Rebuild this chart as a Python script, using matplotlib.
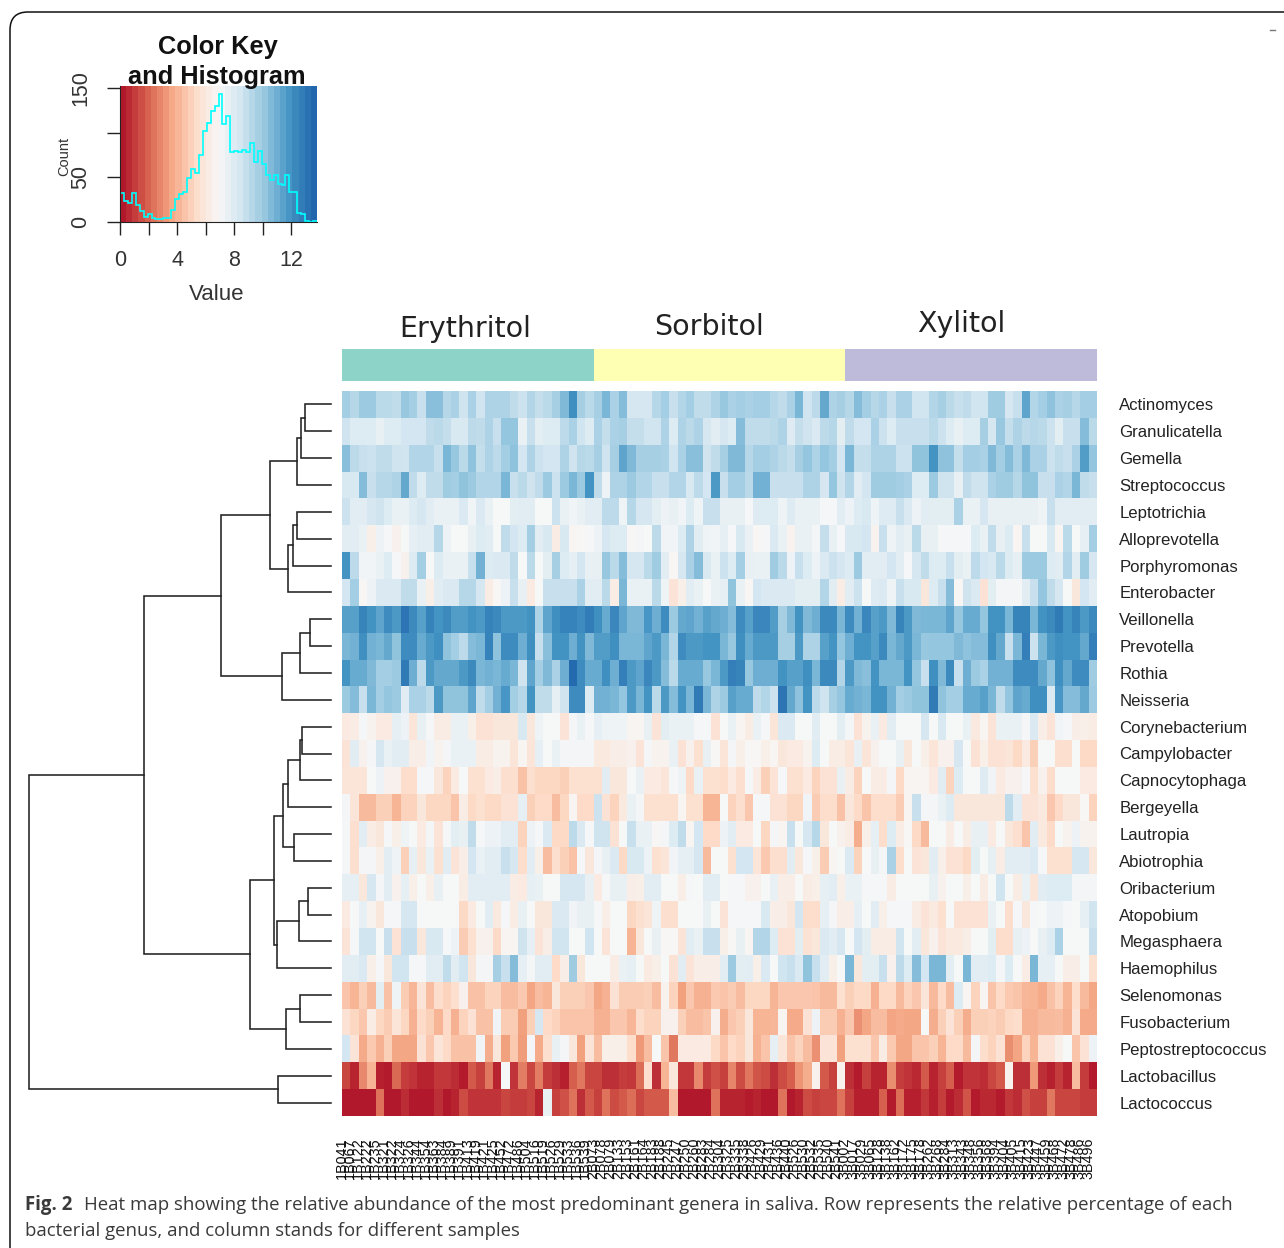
import matplotlib
matplotlib.use("Agg")
import matplotlib.pyplot as plt
import numpy as np
from matplotlib.colors import LinearSegmentedColormap
from matplotlib.path import Path
from matplotlib.patches import PathPatch

W, H = 1284, 1248

genera = ["Actinomyces","Granulicatella","Gemella","Streptococcus","Leptotrichia","Alloprevotella",
          "Porphyromonas","Enterobacter","Veillonella","Prevotella","Rothia","Neisseria",
          "Corynebacterium","Campylobacter","Capnocytophaga","Bergeyella","Lautropia","Abiotrophia",
          "Oribacterium","Atopobium","Megasphaera","Haemophilus","Selenomonas","Fusobacterium",
          "Peptostreptococcus","Lactobacillus","Lactococcus"]

Actinomyces = [10,9.5,10.2,10.2,9.4,9.4,9.2,10.3,10,9,10.7,10.7,9.5,9.8,8.8,
 9.8,8.7,9.7,9.7,9.7,9.2,8.9,9.6,9.1,9.4,9.9,10.9,12.4,9.9,9.4,
 9.9,11,9.8,10.8,8.5,8.5,8.5,9.5,10,9,9.6,10,9.2,9.2,9.7,
 10.3,9.8,10,9.8,10,10,9.5,9.2,9.8,11,8.7,9.3,11.5,9.7,9.9,
 9.5,10.8,10,9.5,9.8,9,9.8,9.8,8.7,8.7,9.6,9.9,9.4,9,9.2,
 8.7,8.7,10.1,10.1,8.5,9,11.6,9.6,10,10.6,9.8,9.9,9.5,10,10]
Granulicatella = [8.8,8.2,8.2,8.2,7.7,8.2,8.2,8.6,8.6,8.6,9.2,9.4,9.1,8.4,8.4,
 9.3,9.2,9.7,9,10.4,10.4,7.6,9,7.9,8.2,8.2,9.3,9.8,8.7,8.2,
 9.8,9.1,9.8,9.9,9.1,9.1,8.7,8.7,9.7,8.2,9.7,9.4,9.7,8.5,8,
 8.5,8.2,10.8,9.2,9.2,9.2,9.4,9.7,8.1,9.1,8.8,8.3,9.3,9.5,7.9,
 9.2,8.6,8.6,9.8,8.9,8.2,9,9,9,9,9.4,8.9,8.2,7.7,8.2,
 8.2,9.9,8.5,10.3,9.1,9.7,9.3,9.5,9.4,8.9,7.9,9,9,10.8,9.4]
Gemella = [10.7,9.3,9,8.9,9.2,9.2,8.8,8.7,9.6,9.6,9.6,9,11,10.3,9.4,
 10.6,9.1,9.7,9.3,10,10.6,8.6,9.7,8.9,8.6,8.6,9.7,8.8,9.5,9.4,
 9.9,8.8,9.9,11.6,10.9,9.9,9.9,9.9,9.8,8.7,9.8,10.7,10.7,8.8,9.2,
 9.9,10.9,10.9,9.5,10,10,9.7,9.4,9.1,9.9,10.4,9.7,10.4,10,8.6,
 11,9.1,9.1,9.7,9.7,9.7,8.9,8.9,10.5,10.5,12.2,10.6,10.6,9.1,10,
 10,9.8,10.9,10,10.8,9.8,10.9,9.8,9.8,8.9,9.2,9,9.8,11.9,10.4]
Streptococcus = [8.4,8.4,10.8,9,9.5,9.5,9.7,11.5,9.2,8.2,9.2,9.2,10.1,10,10.5,
 10.2,9.6,9.6,9.6,11,9,9.4,8.8,9.2,10.2,8.9,10.2,11,10.2,12.2,
 9.2,7.5,9.7,9.7,10.2,9.6,9.6,9,9,9.6,9.6,8.4,9.3,8.6,12,
 9,10,10,9.4,11.2,11.2,9,9,9,9,9.7,9.7,8.5,10.4,8.8,
 9.6,8,8.6,10.1,10.1,10.1,10,9.8,8.2,8.2,10.2,8.8,8.8,7.7,9.2,
 8.8,8.8,9.8,10.1,10.1,9.5,10.5,10.5,9,9,9.8,9.6,11,9.2,9]
Leptotrichia = [8.9,8,8,8.5,8.8,8.2,7.6,7.6,8.2,8.5,8,7.6,7.6,7.6,8.3,
 7.3,8.3,7.6,7,7,7.9,8,8,7,7,8.9,7.6,7.3,7.6,8,
 8,9.3,9.3,7.4,9.5,8.5,8.5,7.9,7.5,7.7,7.3,8.2,7.4,9,9,
 7.7,7.7,7.7,7.1,8.1,8.2,8.2,7.4,8.1,7.6,7.6,7.6,7.1,7.1,8,
 7.5,8.2,8.4,7.4,8.1,8.1,9,8.3,7.5,8,7.9,7.9,7.9,9.8,7.6,
 7.6,8.5,7.7,7.7,7.7,7.7,7.7,7.7,7.4,9,8,8,8,8,8]
Alloprevotella = [8,8,7.6,6.5,7.5,7.1,6.6,7,7.8,8,8,9.5,7.5,7,7,
 7.7,8.2,8,7,9.2,8.6,8.2,10,8,8.4,6.3,8.4,6.8,6.9,7.1,
 7.5,8.5,8.2,8.2,6.9,7.2,7,9.3,7.3,7.3,8.2,9.7,8,7.4,7.3,
 7.8,7.1,8.4,7.6,6.9,7.1,8.3,7.6,6.7,7.6,7.6,7.2,9.1,7.7,7.1,
 8.4,8.4,8.6,6.7,9,7.4,8,7.7,9.4,7.7,7.7,7.1,7.1,7.1,7.1,
 8.2,7.6,9.2,7.7,8.2,6.8,9,7,7,8.4,6.8,9.4,7,7.8,10]
Porphyromonas = [12.2,9.3,7.3,7.3,7.6,8.2,7.1,6.6,8.2,10,7,8.2,7.6,7.6,7.6,
 9,11.2,8.2,8.3,8.3,9.2,7,9.4,7,7.9,9.9,8.2,7.8,8.6,7.7,
 7.7,10.3,9.4,10.8,8.5,8.5,9.4,10.1,8,6.9,8.5,9.8,10.8,8.4,7.6,
 8.9,8.2,10,7.7,7.6,7.6,10.1,9.4,7.5,9,8.2,7.5,8.3,8.9,8.5,
 8.2,10.2,8,8,8,8.6,8,7.1,8.5,9.2,8.2,8.2,9,7.9,7.6,
 9.3,8.6,8.4,9.4,8.2,7.8,10.2,10.2,10.2,8.2,8,9.6,8,10.1,8.5]
Enterobacter = [8.6,10,6.9,7.5,8.3,8.3,8.3,9.2,9.2,7.6,6.5,8,8.3,8.3,9.5,
 9.5,8.5,6.3,6.9,7.5,9,7.7,6.2,7,9,9,9,9,9.8,8,
 8,9.4,6.3,11,7.6,7.6,7.6,9.4,7.4,5.8,6.5,8,7.6,7,7.6,
 7.8,10.5,7.6,6.9,8.6,8.3,8.3,8.3,8.3,7.9,7.9,7.9,9.6,8,6.3,
 8,8.9,7,8.1,8.3,7.4,9,8.4,8.4,6,8.2,9,10.8,6.9,8.8,
 8.3,5.7,7.9,7.2,7.2,7.2,8,9,10.4,9.2,8.5,7,6,8.6,8]
Veillonella = [11.8,11.8,12.8,12.3,11.6,12.5,12,13.4,12.6,11.8,12.9,12.2,12.6,11.9,11.9,
 12.3,12,12.9,12.6,12,12,12,12.3,9.7,11.6,12.4,12.9,12.9,12.5,13.1,
 12.4,11.4,12.7,11.6,10.9,10.9,12.1,11.3,12.5,10.2,11.5,11.6,11.2,11.8,11.5,
 11.3,10.8,12.5,11.8,12.7,12.7,11.9,9.9,10.9,12.3,10.9,11.3,12.6,12.6,11,
 12.5,11.2,12.7,11.8,12,10.9,12.8,12,10.9,11,11,11,11.6,10.3,11.4,
 11.4,10.4,12.3,12.3,11,12.8,12.8,11,12.3,12.6,13.2,12.2,12.8,12,12.6]
Prevotella = [11,11.2,12.4,11.2,11,11.5,10.5,12.5,12.5,11.4,12,12.4,10.5,10,9.3,
 10.8,11,12.9,10.6,12.5,12.5,11.3,12.4,9,10.7,12.3,12.3,11.3,12.3,10.9,
 11.9,11.9,12.4,11,11,11,11.6,12,11,9.6,12.5,12,12,12.2,12.2,
 11,10.3,12.4,11.4,12,12,12,9.9,9.9,12,9.7,9.7,11.8,12.2,10.4,
 11.3,12.2,12.2,11.8,12.6,11,11.5,12,11,10.3,10.4,10.4,10.4,10.9,10.6,
 10.8,10.8,12.4,11.5,9,11,13,8.9,11,12,12.4,12.2,12.2,11.5,13]
Rothia = [12.2,11.4,11.4,10.9,10,10,10.2,13.2,11.3,9.3,12,11.5,11.5,11.5,12,
 12.6,11,11.2,11,11.4,11,8.8,11.6,10,10.9,9.8,11.3,13.8,12.5,11.4,
 11.4,12.4,11.3,13,12,11.6,12.7,12,10.8,9.4,11.4,11.4,11.4,10.3,11,
 12,13,12.8,10.3,11.3,11.3,11.3,12.3,11.8,11.8,12.4,11,12.6,12.6,9.6,
 12,10.9,10.7,12.2,11,11,11,12.2,10.4,9,12.4,10.9,12.6,9,11.3,
 10.2,9.8,11.2,11.2,11.2,12.5,12.5,12.5,11.5,10.6,12.4,11.5,12.5,12.5,10.1]
Neisseria = [10.2,10.8,9,11,10,10.4,10.2,8,9.8,9.8,9.3,12,10.5,10.5,10.5,
 11.6,9.2,10,11.2,12.1,10,9.5,12.2,9.2,9.2,7.8,8.8,12.5,12.5,8.2,
 11.2,11.2,11,10.4,12,11,12.2,9.4,12,10.8,12.2,11,13.2,11,9.7,
 10.2,11.8,11.4,11.4,9.2,9.6,8.9,13.4,11.5,10.6,12.2,9.3,8.8,9.9,10.4,
 11.4,11.2,11,12.3,12.3,11.2,10,10.2,10.5,10.5,13.2,10.5,10,10,11.4,
 11.4,11.8,11,9.2,10.4,11.6,11.4,12.4,12.4,8.3,12.1,10.8,10.8,11.5,10.2]
Corynebacterium = [6.2,6.3,7.1,6.7,6.2,6.2,7.8,7.5,5.9,7.7,7.1,6.3,6.3,7.6,7.6,
 6.5,5.7,5.7,6,6,6,8.4,6,7.4,7,7,5.8,7.2,7.6,7.1,
 7.8,7.4,7.4,7.4,6.8,6.8,7.7,5.8,7.9,7.6,7.6,7.6,7.1,7.1,5.7,
 7,7.6,6.8,6.3,7.6,7.1,5.9,8.3,8.3,7,7,8,7,7,7.9,
 7.2,5.7,6.7,7.6,6.2,8,7,7,7,8.5,7,8.4,7,7,7.6,
 6.1,6.8,5.8,7.6,7.6,7.6,7.1,8.3,6.4,5.8,7.3,7.1,6.4,6.5,6.3]
Campylobacter = [5.8,8,6.6,7.2,8.5,7.6,8,8,6.4,6.4,7.3,6.7,7.2,7.6,7.6,
 7.6,6.3,6.3,6.7,6.7,5.9,6.8,5.9,7.8,7,7.6,7.2,7.2,7.2,7.2,
 6.1,6.1,6.4,6.4,6.6,5.8,7.2,6.7,6.7,7.6,5.7,6.6,5.6,7.7,6.9,
 5.9,7.2,6.5,6.9,6.9,6.5,6.8,6,6.2,6.2,6.7,8.2,7,6.3,6.3,
 5.9,7.7,5.9,6.6,7,7,7.7,6,7,6.5,5.9,6.6,6.6,8.5,7,
 5.7,6.5,5.7,5.7,5.9,5.2,6.2,4.9,7,7,5.5,5.5,7,5.2,5.2]
Capnocytophaga = [5.9,5.9,5.9,7,7.5,6.6,6.6,5.4,5.4,7.1,7.1,6,5,6.2,7,
 5.6,5.6,6.2,6.4,5.5,5.5,4.4,5.5,5.1,5.1,5.1,4.9,5.6,5.6,5.6,
 5.6,8,6,6,7,7.6,6.2,6.2,5.9,7.1,7.4,5.3,7.6,5.6,5.6,
 5.4,6.2,5.5,7.1,6.3,4.9,5.8,7.1,5.6,5.6,6.2,5,5.7,5.7,7.7,
 6.3,5,7,6.3,6.3,7.2,5.2,6.8,6.8,6.8,6.2,8,5,8.2,7,
 7,8.1,7.3,6.2,6.6,6.6,7.1,5.6,6.6,5.4,7,7,7,6.2,6.2]
Bergeyella = [7.2,5.9,4.2,4.2,4.9,4.9,4,5,5,6,5.1,5.1,5.1,4.5,6.3,
 5.2,5.6,5.2,5.2,5.7,5.7,7.8,4.9,5.3,5.3,4.3,5.1,6.8,5.3,5.3,
 8.9,5.7,5,6.1,7.6,7.2,5.6,5.6,5.6,5.6,6.8,5.6,5.6,4,4,
 7,5,5.5,4.6,7.1,7.1,5.7,5.7,5.1,5.1,7.3,4.8,5.4,5.4,4.4,
 6,5.3,4.5,5.4,5.4,5.4,4.8,6.8,9,7.2,7.2,7.6,8.2,6,6,
 6,6,6,6,9.3,8,5.8,5.8,6.1,4.6,5.3,6,6,6.9,5]
Lautropia = [7.1,5.5,8,6.3,6,7.1,6.5,7.4,7,6.2,7.2,5.8,7.1,7.9,7.7,
 9.2,7.1,7.5,7.5,8,8,5,7.5,7.1,8.3,5.2,5.2,9.3,8.3,7.1,
 8.8,8.8,5.7,7,9,7.6,7.6,6.9,7.2,8.2,9.2,6.8,8.6,5.3,5.3,
 7.5,8,6.2,6.2,7,5.1,7.2,6.8,9,7,8.5,9.5,6,7,6.6,
 6.3,3.8,6.5,7.8,5.4,8.2,6.3,6.9,5.2,4.2,7,7,6.3,7,6.3,
 7.7,7.7,6.2,7,6,5.5,4.5,8,6.1,5.3,7,6.7,7.5,6.7,6.7]
Abiotrophia = [7.1,5.5,7.2,7.2,6.5,8,7.4,4.9,7.8,6,7.6,5.6,8,5.8,6.4,
 8.6,7.6,8,8,9,8.5,5.4,8,6.5,4.3,5.5,4.9,4.4,7.1,6,
 7.2,7.7,8.3,5.2,8.4,8.4,7.5,5.6,5.9,7.3,7.8,7.8,8.5,4.2,7,
 7,5.6,8.6,8.6,5.9,4.7,5.5,5.5,8,6,7.1,6.5,4.8,6.8,7,
 8.3,5,7,7.7,7.2,9.8,5.4,7,5.8,6,8,6.5,5.7,5.7,5.2,
 7.9,7,7.8,6.3,8,8,8,8.3,7.1,5.6,5.6,5.6,8.5,8.5,6]
Oribacterium = [7.8,7.8,6,8.5,7.2,8,6.6,7.8,6.5,7,6.5,7.7,7,7,6.3,
 8,8,8,8,8,6.3,6.2,7.8,7.6,7,7,8.5,8.5,8.5,7.7,
 6.2,7.1,7.7,7.7,6.4,6.5,8,8,7,7,6.4,7.1,7,8,8,
 7,7.1,7.1,6.6,6.6,7,7.7,6.4,6.4,7,6.3,6.5,7.8,8,6.5,
 7.6,7.6,7.1,7.1,7.1,6.3,7,7,7,7,7.7,6.6,7,7,6.5,
 7,6.3,7,8.7,7,6.3,7.6,5.9,8,8.2,8.2,8.2,7.2,7.2,7.2]
Atopobium = [6.2,7,7.8,6.7,6,7.1,7.1,8.5,8.5,7,7,7,7,7,5.2,
 6.2,7,8,6.1,7.1,6.3,7.7,7,6,6,8.3,8.3,7.3,7.7,7.7,
 7.1,6.4,7,7,5.1,5.6,5.9,7.4,5.5,5.5,7,7,7,7.7,7,
 5.8,7.1,7.1,7.1,7.1,8.4,6.4,6.4,6,8.6,5.4,5.4,7.8,7.2,6.4,
 6.4,7.8,7,8,6.5,7.1,7.1,7.1,6.3,5.8,6.1,5.6,7,5.7,5.7,
 5.7,5.7,7.6,7,5.4,7.1,6,7.1,7,7.5,7.5,7.1,7,7.8,8.7]
Megasphaera = [5.8,7.1,8.7,8.7,7,9,5.7,9,9,6,8.4,8.4,7.1,7.5,4.8,
 5.6,6.6,6.6,5.3,6.8,6.8,8.8,7.8,5.8,6.4,8.7,8.7,7,7,8.7,
 7,5.8,7,7,4,6,7,7.7,6.9,6.9,5.8,8,7.6,9,9,
 6.5,6.9,7.7,6.8,9.6,9.6,8.2,5.7,5.7,7.9,5.7,6,8.3,8,8.5,
 7,8.6,7.9,6.3,6.3,6.3,8.7,7,8,6,6.6,5.8,6.1,6.1,6.4,
 7,7,7.9,5.4,5.4,7.7,7.5,7,7.7,8.2,9.8,7,7,7,9]
Haemophilus = [8,8,8.3,6.5,7.1,6,8.7,8.7,7.1,7.1,8,8,9.2,8,8.7,
 6,7.2,7.2,9.9,9,10.8,7.8,7.2,8,8,5.3,6.4,10.1,6,7,
 7,7,6.3,7.6,7.8,7,6.2,6.5,7,5.7,8,5.8,6.4,6.4,6.4,
 8,10.2,7.9,8,6.5,8.3,7,8.7,9,8.3,10.5,9,8,6.5,7,
 11,6,7.9,7.9,9,6.6,9.3,8.2,10.8,8.6,11,11,7.9,7,11,
 8,8,8.2,7.2,8.2,7,6.3,11,7.8,7.8,7,6.4,6.4,7,5.6]
Selenomonas = [4.5,4,4.9,4.2,7.9,4.4,7.4,4.8,4.1,5.8,4.3,5.4,5,5.5,6.6,
 4.4,4.4,5,5,4.3,4.3,4.7,3.5,4.3,4,6,4.9,4.9,4.9,4.6,
 3.6,3.9,5.7,4.8,4.8,4.8,4.9,4.3,6.7,5,3.4,4.6,3.9,3.9,4.7,
 4.5,4.8,4.3,5.1,5.1,5.1,4,4.6,4.6,4.6,4.6,4.5,4.2,4.2,5.6,
 4.9,5.2,5.2,3.9,5.2,5.2,4.2,5,4.6,5.9,4.2,5.3,4.3,8.2,6.8,
 5,6.8,4.5,5.3,4.7,4.5,4.1,4,3.7,4.4,5,4,5.4,4.2,3.6]
Fusobacterium = [5.7,5.1,4.6,6.3,5.1,4.8,5.9,5.1,3.9,5.3,4.9,4,5.3,3.9,5,
 5.7,4.4,4.4,7.3,4.8,4.8,3.4,4.9,8.5,5.3,5,4.5,4.5,4.5,4.5,
 3.9,3.9,4.6,4.6,4.1,5.4,5,5,6.6,6.6,4.9,4.3,4.3,4.5,6.6,
 3.8,4.6,4.9,6,4,4,4.1,6.8,3.7,3.7,5.7,7.5,4.8,4.8,3.9,
 4.6,3,3.6,4.3,4.3,3.5,3.7,3.6,3.6,7,3.8,4.9,5.8,4.9,3.8,
 4.9,4.9,5,4.8,5.2,5.4,3.9,3.9,4.2,4.2,4.3,3.9,5.8,3.7,3.7]
Peptostreptococcus = [8.6,5.8,3.7,4.7,3.9,4.9,3.6,3.6,3.6,5.7,4.6,5.9,5.3,4.4,4.4,
 4.4,7.3,3.8,6,3.4,4.7,3.3,7.2,3.7,5.5,7.7,7.2,6,3.4,5.8,
 4.3,6.5,6.5,6.5,5.4,3.2,4.3,7,4.5,2.4,6.2,6.2,6.2,6.2,5.2,
 4.5,5.3,5,6,3.9,4.5,7.8,5.9,4.5,5,4.3,3,5.8,5.8,3.4,
 5.6,5.6,5.6,4.6,6.3,4.7,3.6,3.6,4.5,4.5,4.9,4,5.3,5.3,4.2,
 7.2,5.4,5,5.7,2.9,3.5,5,4,5.7,5.7,6.5,7,4.5,5.7,7.5]
Lactobacillus = [1.1,0.3,2.8,4,0.2,0.1,2,0.9,0.7,0.3,0.3,0.8,0.8,0.5,0.1,
 1.6,1,2.4,0.3,7.1,0.7,2.5,1.2,2.5,0.9,0.6,0.2,1.7,2.4,1.1,
 1.1,0.6,0.6,0.9,0.8,2.1,5.5,0.6,4,6,0.8,0.8,2.8,0.9,1.4,
 1,2.7,1.3,2.3,1.5,1.3,0.6,1.3,1.7,3.1,3.8,6.6,1.6,1,6.7,
 0.6,0.1,1,0.3,0.3,2.9,0.9,0.7,0.4,1.6,0.3,1,1.7,0.1,0.7,
 0.7,0.5,1.2,1.6,6.7,0.6,0.6,3.2,0.6,0.2,0.9,0.3,4.3,0.9,0.1]
Lactococcus = [0.05,0.05,0.05,0.05,2.2,0.05,0.05,0.5,0.05,0.05,0.05,0.6,0.05,0.3,1.3,
 0.7,0.7,0.7,0.7,1.1,0.9,0.9,1.1,0.3,7.7,1,1.4,2.2,0.6,1.6,
 1,2.2,1.3,1.6,2.1,1.2,1.6,1.6,1.6,4.3,0.05,0.05,0.05,0.05,2.2,
 0.3,0.3,0.3,0.1,0.3,0.05,0.05,2.2,0,0.3,1.3,1,1.2,1.2,2.2,
 1,0.2,0.2,0.2,1.8,0.1,2.1,0.2,0.2,0.8,0.2,0.9,0.1,0.5,1.5,
 0.1,0.4,0.4,0.1,0.8,0.5,1.4,1,1,2.4,1.1,1.1,1.1,0.9,0.9]

rows = [Actinomyces,Granulicatella,Gemella,Streptococcus,Leptotrichia,Alloprevotella,Porphyromonas,
        Enterobacter,Veillonella,Prevotella,Rothia,Neisseria,Corynebacterium,Campylobacter,
        Capnocytophaga,Bergeyella,Lautropia,Abiotrophia,Oribacterium,Atopobium,Megasphaera,
        Haemophilus,Selenomonas,Fusobacterium,Peptostreptococcus,Lactobacillus,Lactococcus]

samples = ["1B041","1B067","1B122","1B222","1B235","1B321","1B322","1B324","1B326","1B344",
           "1B354","1B363","1B384","1B389","1B391","1B413","1B419","1B421","1B425","1B452",
           "1B472","1B486","1B504","1B516","1B519","1B526","1B529","1B533","1B536","1B539",
           "2B073","2B078","2B079","2B133","2B153","2B161","2B164","2B183","2B188","2B245",
           "2B247","2B250","2B260","2B283","2B284","2B304","2B325","2B335","2B338","2B426",
           "2B429","2B431","2B436","2B440","2B526","2B530","2B532","2B535","2B540","2B541",
           "3B002","3B017","3B029","3B065","3B128","3B138","3B162","3B172","3B175","3B178",
           "3B262","3B268","3B284","3B313","3B343","3B348","3B356","3B368","3B394","3B404",
           "3B405","3B415","3B423","3B447","3B459","3B468","3B472","3B478","3B486","3B496"]

group_names = ["Erythritol", "Sorbitol", "Xylitol"]
group_sizes = [30, 30, 30]
group_colors = ["#8dd3c7", "#ffffb3", "#bebada"]

hist_counts = [32,23,21.5,32,19,12,6,8.5,4,3.5,3,4.5,4.5,13,26,31,33,49,59,55,75,102,111,124,130,
               143,109,118,78,79,78,81,78,88,67,79,64.5,53,47,53,42,41,52,33,33,10,8.5,1,0,1]
value_max = 13.8

merge_left  = [0,27,28,4,30,31,29,8,34,35,33,12,38,39,16,40,18,43,44,42,22,47,46,37,25,50]
merge_right = [1,2,3,5,6,7,32,9,10,11,36,13,14,15,17,41,19,20,21,45,23,24,48,49,26,51]
merge_height= [26,30,34,34,38,43,61,21,31,49,110,29,31,43,37,48,23,32,54,57,31,45,81,187,53,302]

assert all(len(r) == 90 for r in rows), [len(r) for r in rows]
assert len(samples) == 90 and len(hist_counts) == 50

plt.rcParams["font.family"] = ["Liberation Sans", "DejaVu Sans"]
fig = plt.figure(figsize=(W / 100, H / 100), dpi=100, facecolor="white")

def px_axes(x0, y0, x1, y1):
    return fig.add_axes([x0 / W, 1 - y1 / H, (x1 - x0) / W, (y1 - y0) / H])

cmap = LinearSegmentedColormap.from_list(
    "rdbu9", ["#b2182b", "#d6604d", "#f4a582", "#fddbc7", "#f7f7f7",
              "#d1e5f0", "#92c5de", "#4393c3", "#2166ac"], N=256)

# page frame
bg = fig.add_axes([0, 0, 1, 1], zorder=-1)
bg.set_xlim(0, W); bg.set_ylim(H, 0); bg.axis("off")
frame = Path([(10, H + 5), (10, 30), (10, 12), (28, 12), (W + 5, 12)],
             [Path.MOVETO, Path.LINETO, Path.CURVE3, Path.CURVE3, Path.LINETO])
bg.add_patch(PathPatch(frame, fc="none", ec="#111111", lw=1.1))
bg.plot([1270, 1275], [30, 30], color="#777777", lw=1)

# heat map
data = np.array(rows, dtype=float)
ax = px_axes(342, 391, 1097, 1116)
ax.pcolormesh(np.arange(91), np.arange(28), data, cmap=cmap, vmin=0, vmax=14,
              edgecolors="none", antialiased=False)
ax.set_xlim(0, 90); ax.set_ylim(27, 0)
ax.yaxis.tick_right()
ax.set_yticks(np.arange(27) + 0.5, genera, fontsize=12.1, color="#222222")
ax.tick_params(axis="y", length=0, pad=16)
ax.set_xticks([])
for s in ax.spines.values():
    s.set_visible(False)
trans = ax.get_xaxis_transform()
for i, name in enumerate(samples):
    ax.text(i + 0.5 - 0.55, -0.0295, name, transform=trans, rotation=90, ha="center", va="top",
            fontsize=10.4, color="#111111", clip_on=False)

# side colour bar
side = px_axes(342, 349, 1097, 381)
edges = np.cumsum([0] + group_sizes)
for k in range(3):
    side.barh(0, group_sizes[k], left=edges[k], height=1, color=group_colors[k], linewidth=0)
side.set_xlim(0, 90); side.set_ylim(-0.5, 0.5); side.axis("off")

title_px = [(465, 329), (709, 327), (961, 324)]
for name, (x, y) in zip(group_names, title_px):
    fig.text(x / W, 1 - y / H, name, ha="center", va="center", fontsize=20.5,
             family="DejaVu Sans", color="#222222")

# dendrogram
den = px_axes(29, 391, 331, 1116)
den.set_xlim(302, 0); den.set_ylim(27, 0); den.axis("off")
pos = {i: (i + 0.5, 0.0) for i in range(27)}
for n, (a, b, h) in enumerate(zip(merge_left, merge_right, merge_height)):
    ya, ha_ = pos[a]; yb, hb = pos[b]
    den.plot([ha_, h, h, hb], [ya, ya, yb, yb], color="#222222", lw=1.15,
             solid_joinstyle="miter", clip_on=False)
    pos[27 + n] = ((ya + yb) / 2, h)

# colour key + histogram
key = px_axes(120, 86, 317, 222)
bands = np.linspace(0, value_max, 33)
key.pcolormesh(bands, [0, 152], (np.linspace(0, 14, 32))[None, :], cmap=cmap, vmin=0, vmax=14,
               edgecolors="none", antialiased=False)
bins = np.linspace(0, value_max, len(hist_counts) + 1)
key.stairs(hist_counts, bins, color="#00ffff", lw=1.2, baseline=None)
key.set_xlim(0, value_max); key.set_ylim(0, 152)
for s in ("top", "right"):
    key.spines[s].set_visible(False)
key.spines["left"].set_color("#222222"); key.spines["bottom"].set_color("#222222")
key.set_xticks([0, 2, 4, 6, 8, 10, 12], ["0", "", "4", "", "8", "", "12"])
key.set_yticks([0, 50, 100, 150], ["0", "50", "", "150"])
key.tick_params(axis="x", length=9.5, width=1, labelsize=15.5, pad=11, color="#222222", labelcolor="#333333")
key.tick_params(axis="y", length=9.5, width=1, labelsize=15.5, pad=11, color="#222222", labelcolor="#333333")
for t in key.get_yticklabels():
    t.set_rotation(90); t.set_va("center")
fig.text(217 / W, 1 - 294 / H, "Value", ha="center", va="center", fontsize=16, color="#333333")
fig.text(64 / W, 1 - 156 / H, "Count", ha="center", va="center", rotation=90, fontsize=10.5, color="#333333")
fig.text(218 / W, 1 - 47 / H, "Color Key", ha="center", va="center", fontsize=18.3, fontweight="bold", color="#111111")
fig.text(217 / W, 1 - 77 / H, "and Histogram", ha="center", va="center", fontsize=18.3, fontweight="bold", color="#111111")

# caption
cap = dict(va="center", fontsize=13.4, family="Open Sans", color="#3a3a3a")
fig.text(25 / W, 1 - 1205 / H, "Fig. 2", fontweight="bold", **cap)
fig.text(84 / W, 1 - 1205 / H, "Heat map showing the relative abundance of the most predominant genera in saliva. "
         "Row represents the relative percentage of each", **cap)
fig.text(25 / W, 1 - 1231 / H, "bacterial genus, and column stands for different samples", **cap)

fig.savefig("out.png", dpi=100, facecolor="white")
